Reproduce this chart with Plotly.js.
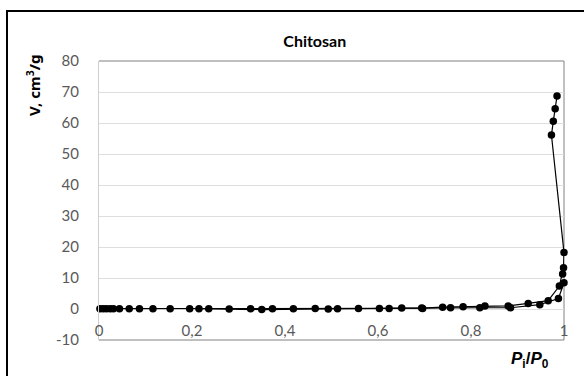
<!DOCTYPE html>
<html>
<head>
<meta charset="utf-8">
<script src="https://cdn.plot.ly/plotly-3.0.1.min.js"></script>
<style>
html,body{margin:0;padding:0;background:#fff;}
#wrap{position:relative;width:584px;height:376px;}
#chart{width:584px;height:376px;}
#frame{position:absolute;left:6px;top:10px;width:578px;height:366px;border-top:2px solid #000;border-left:2px solid #000;pointer-events:none;}
</style>
</head>
<body>
<div id="wrap"><div id="chart"></div><div id="frame"></div></div>
<script>
// Adsorption branch (P/P0, V cm3/g)
const adsP = [0.002,0.009,0.016,0.024,0.031,0.044,0.065,0.087,0.116,0.153,0.195,0.236,0.280,0.326,0.373,0.418,0.465,0.513,0.558,0.603,0.651,0.694,0.739,0.783,0.830,0.880,0.923,0.966,0.990,0.997,0.999,1.000,0.973,0.977,0.981,0.985];
const adsV = [0.1,0.1,0.1,0.1,0.1,0.1,0.1,0.1,0.1,0.1,0.1,0.1,0.0,0.1,0.1,0.1,0.2,0.1,0.2,0.2,0.3,0.3,0.6,0.7,1.0,1.0,1.8,2.7,7.4,11.3,13.3,18.2,56.1,60.6,64.6,68.7];
// Desorption branch
const desP = [1.000,0.988,0.948,0.885,0.819,0.756,0.696,0.624,0.493,0.350,0.215];
const desV = [8.5,3.4,1.4,0.4,0.4,0.4,0.2,0.2,0.0,-0.2,0.1];

const xTickVals = [0,0.2,0.4,0.6,0.8,1];
const xTickText = ['0','0,2','0,4','0,6','0,8','1'];
const yTickVals = [-10,0,10,20,30,40,50,60,70,80];
const yTickText = ['-10','0','10','20','30','40','50','60','70','80'];

const title = 'Chitosan';
const yTitle = '<b>V, cm<sup>3</sup>/g</b>';
const xTitle = '<b><i>P</i><sub>i</sub>/<i>P</i><sub>0</sub></b>';

const lineStyle = {color:'#000', width:1.2};
const markerStyle = {color:'#000', size:7.5, symbol:'circle'};

const traces = [
  {x:adsP, y:adsV, type:'scatter', mode:'lines+markers', line:lineStyle, marker:markerStyle, cliponaxis:false},
  {x:desP, y:desV, type:'scatter', mode:'lines+markers', line:lineStyle, marker:markerStyle, cliponaxis:false}
];

const tickFont = {family:'Lato, "Open Sans", sans-serif', size:15, color:'#595959'};
const borderColor = '#808080';

const layout = {
  width:584, height:376,
  margin:{l:99, r:20, t:61, b:36},
  paper_bgcolor:'#fff', plot_bgcolor:'#fff',
  showlegend:false,
  font:{family:'Lato, "Open Sans", sans-serif', color:'#000'},
  title:{text:'<b>'+title+'</b>', font:{size:16, color:'#000'}, xref:'container', yref:'container', x:0.539, y:0.891, xanchor:'center', yanchor:'middle'},
  xaxis:{range:[0,1], tickmode:'array', tickvals:xTickVals, ticktext:xTickText,
         showgrid:false, zeroline:false, showline:false,
         anchor:'free', position:0.072,
         ticks:'', tickfont:tickFont, fixedrange:true},
  yaxis:{range:[-10,80], tickmode:'array', tickvals:yTickVals, ticktext:yTickText,
         showgrid:true, gridcolor:'#dedede', gridwidth:1,
         zeroline:false, showline:true, linecolor:'#cfcfcf', linewidth:1,
         ticks:'', ticklabelstandoff:16, tickfont:tickFont, fixedrange:true},
  shapes:[
    {type:'line', xref:'paper', yref:'paper', x0:1, x1:1, y0:0, y1:1, layer:'below', line:{color:borderColor, width:1}},
    {type:'line', xref:'paper', yref:'paper', x0:0, x1:1, y0:1, y1:1, layer:'below', line:{color:borderColor, width:1}},
    {type:'line', xref:'paper', yref:'paper', x0:0, x1:1, y0:0, y1:0, layer:'below', line:{color:borderColor, width:1}}
  ],
  annotations:[
    {text:yTitle, xref:'paper', yref:'paper', x:-0.14, y:0.914, textangle:-90, showarrow:false,
     font:{family:'"Noto Sans", "Open Sans", sans-serif', size:15, color:'#000'}, xanchor:'center', yanchor:'middle'},
    {text:xTitle, xref:'paper', yref:'paper', x:0.927, y:-0.072, showarrow:false,
     font:{family:'"Liberation Sans", "DejaVu Sans", sans-serif', size:17, color:'#000'}, xanchor:'center', yanchor:'middle'}
  ]
};

Plotly.newPlot('chart', traces, layout, {displayModeBar:false, staticPlot:true});
</script>
</body>
</html>
